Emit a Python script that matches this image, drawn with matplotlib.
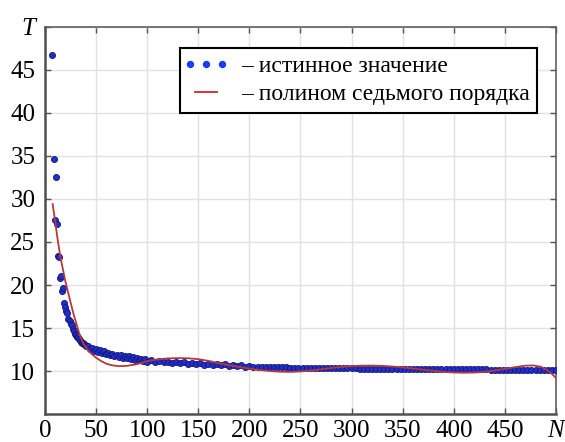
import matplotlib
matplotlib.use("Agg")
import matplotlib.pyplot as plt
from matplotlib.lines import Line2D
from matplotlib.legend_handler import HandlerLine2D

# ---- data: true values (dots) ----
n_true = [7, 9, 10, 11, 12, 13, 14, 15, 16, 17, 18, 19, 20, 21, 22, 23, 24, 25, 26, 27,
          28, 29, 30, 31, 32, 33, 34, 35, 36, 37, 38, 39, 40, 42, 44, 46, 48, 50, 52, 54,
          56, 58, 60, 62, 64, 66, 68, 70, 72, 74, 76, 78, 80, 82, 84, 86, 88, 90, 92, 94,
          96, 98, 100, 104, 108, 112, 116, 120, 124, 128, 132, 136, 140, 144, 148, 152,
          156, 160, 164, 168, 172, 176, 180, 184, 188, 192, 196, 200, 204, 208, 212, 216,
          220, 224, 228, 232, 236, 240, 244, 248, 252, 256, 260, 264, 268, 272, 276, 280,
          284, 288, 292, 296, 300, 304, 308, 312, 316, 320, 324, 328, 332, 336, 340, 344,
          348, 352, 356, 360, 364, 368, 372, 376, 380, 384, 388, 392, 396, 400, 404, 408,
          412, 416, 420, 424, 428, 432, 436, 440, 444, 448, 452, 456, 460, 464, 468, 472,
          476, 480, 484, 488, 492, 496, 500]
t_true = [46.7, 34.6, 27.6, 32.6, 27.1, 23.4, 23.3, 20.8, 21.0, 19.3, 19.6, 17.9, 17.5,
          17.0, 16.7, 16.1, 15.8, 15.5, 15.3, 14.9, 14.6, 14.3, 14.2, 14.0, 13.9, 13.7,
          13.6, 13.4, 13.3, 13.2, 13.1, 13.0, 12.95,
          12.92, 12.58, 12.72, 12.38, 12.57, 12.23, 12.42, 12.08, 12.27, 11.93, 12.12,
          11.83, 12.02, 11.73, 11.92, 11.63, 11.84, 11.56, 11.77, 11.48, 11.69, 11.40,
          11.60, 11.33, 11.52, 11.25, 11.45, 11.18, 11.37, 11.10,
          11.25, 11.05, 11.17, 10.99, 11.10, 10.93, 11.05, 10.88, 11.00, 10.83, 10.95,
          10.79, 10.91, 10.75, 10.87, 10.71, 10.82, 10.65, 10.77, 10.60, 10.71, 10.55,
          10.65, 10.48, 10.59,
          10.50, 10.49, 10.47, 10.46, 10.45, 10.44, 10.43, 10.42, 10.41, 10.40,
          10.40, 10.39, 10.38, 10.37, 10.37, 10.36, 10.35, 10.35, 10.34, 10.33, 10.33,
          10.32, 10.32, 10.31, 10.30, 10.30, 10.29, 10.29, 10.28, 10.28, 10.27, 10.27,
          10.26, 10.26, 10.25, 10.25, 10.25, 10.24, 10.24, 10.23, 10.23, 10.23, 10.22,
          10.22, 10.22, 10.21, 10.21, 10.21, 10.20, 10.20, 10.20, 10.19, 10.19, 10.19,
          10.18, 10.18, 10.18, 10.18, 10.17, 10.17, 10.17, 10.17, 10.16, 10.16, 10.16,
          10.16, 10.16, 10.15, 10.15, 10.15, 10.15, 10.15, 10.15, 10.15, 10.15]

# ---- data: seventh-order polynomial (line) ----
n_poly = [7.5, 10, 12, 15, 20, 25, 28, 30, 34, 38, 42, 46, 50, 55, 60, 65, 72, 80, 88, 95,
          100, 110, 120, 130, 140, 150, 160, 170, 180, 190, 200, 210, 220, 230, 240, 250,
          260, 270, 280, 290, 300, 310, 320, 330, 340, 350, 360, 370, 380, 390, 400, 410,
          420, 430, 440, 450, 460, 470, 478, 485, 490, 495, 500]
t_poly = [29.4, 27.4, 25.6, 23.3, 20.4, 18.0, 16.6, 15.8, 14.2, 13.1, 12.4, 11.95, 11.55,
          11.15, 10.85, 10.68, 10.56, 10.6, 10.75, 10.95, 11.15, 11.35, 11.46, 11.5, 11.48,
          11.38, 11.18, 10.92, 10.68, 10.47, 10.28, 10.12, 10.0, 9.92, 9.9, 9.95, 10.05,
          10.2, 10.35, 10.48, 10.57, 10.62, 10.63, 10.6, 10.52, 10.42, 10.3, 10.15, 10.02,
          9.9, 9.83, 9.8, 9.82, 9.9, 10.05, 10.25, 10.45, 10.62, 10.65, 10.5, 10.22, 9.78, 9.2]

x_ticks = [0, 50, 100, 150, 200, 250, 300, 350, 400, 450, 500]
x_labels = ["0", "50", "100", "150", "200", "250", "300", "350", "400", "450", "N"]
y_ticks = [10, 15, 20, 25, 30, 35, 40, 45, 50]
y_labels = ["10", "15", "20", "25", "30", "35", "40", "45", "T"]

legend_labels = ["– истинное значение", "– полином седьмого порядка"]

plt.rcParams["font.family"] = ["Liberation Serif", "DejaVu Serif"]

fig = plt.figure(figsize=(5.65, 4.42), dpi=100)
ax = fig.add_axes([0.0796, 0.0633, 0.9044, 0.8757])

ax.plot(n_true, t_true, linestyle="none", marker="o", markersize=4.4,
        markerfacecolor="#1f2fc8", markeredgecolor="#15157a", markeredgewidth=0.6,
        zorder=3)
ax.plot(n_poly, t_poly, color="#b8383a", linewidth=1.3, zorder=4)

ax.set_xlim(0, 500)
ax.set_ylim(5, 50)
ax.set_xticks(x_ticks)
ax.set_xticklabels(x_labels)
ax.set_yticks(y_ticks)
ax.set_yticklabels(y_labels)
ax.get_xticklabels()[-1].set_style("italic")
ax.get_yticklabels()[-1].set_style("italic")

ax.tick_params(direction="in", length=4, width=1, colors="#555555",
               labelcolor="black", labelsize=18, top=True, right=True)
ax.tick_params(axis="x", pad=4)
ax.tick_params(axis="y", pad=7)
ax.grid(True, color="#e2e2e2", linewidth=1)
ax.set_axisbelow(True)
for side in ["left", "bottom"]:
    ax.spines[side].set_linewidth(1.8)
    ax.spines[side].set_color("#505050")
for side in ["top", "right"]:
    ax.spines[side].set_linewidth(1.2)
    ax.spines[side].set_color("#606060")

h_dots = Line2D([], [], linestyle="none", marker="o", markersize=4.3,
                markerfacecolor="#1a3cff", markeredgecolor="#1a3cff")
h_line = Line2D([], [], color="#e02020", linewidth=1.3)
leg = ax.legend([h_dots, h_line], legend_labels, loc="upper right",
                bbox_to_anchor=(0.963, 0.946), fontsize=17, numpoints=3,
                handlelength=1.55, handletextpad=0.7, labelspacing=0.28,
                borderpad=0.32, borderaxespad=0, fancybox=False, framealpha=1,
                edgecolor="black",
                handler_map={h_dots: HandlerLine2D(marker_pad=0.1)})
leg.get_frame().set_linewidth(1.5)

fig.savefig("out.png", dpi=100)
